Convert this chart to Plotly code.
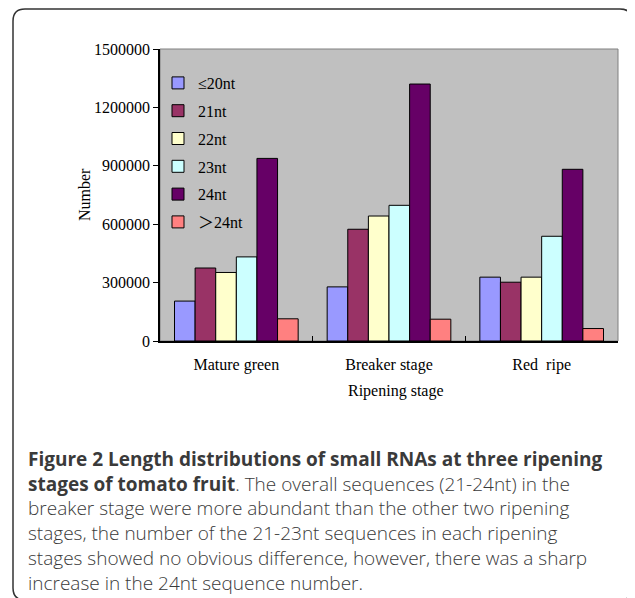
import plotly.graph_objects as go

categories = ["Mature green", "Breaker stage", "Red  ripe"]
series_names = ["≤20nt", "21nt", "22nt", "23nt", "24nt", "＞24nt"]
le20 = [205000, 278000, 328000]
nt21 = [375000, 574000, 302000]
nt22 = [352000, 642000, 328000]
nt23 = [432000, 697000, 538000]
nt24 = [938000, 1320000, 882000]
gt24 = [114000, 112000, 64000]
series_values = [le20, nt21, nt22, nt23, nt24, gt24]
colors = ["#9999FF", "#993366", "#FFFFCC", "#CCFFFF", "#660066", "#FF8080"]
y_ticks = [0, 300000, 600000, 900000, 1200000, 1500000]

# page body has an 8px margin; figure placed at (8,8) on screen
OFF = 8
W, H = 635 - OFF, 598 - OFF
L, R, T, B = 160, 618, 49, 341  # plot area in screen pixels


def px(x):
    return (x - L) / (R - L)


def py(y):
    return (B - y) / (B - T)


fig = go.Figure()
for i, (name, vals) in enumerate(zip(series_names, series_values)):
    fig.add_trace(go.Bar(
        x=categories, y=vals, name=name,
        marker=dict(color=colors[i], line=dict(color="#000000", width=1)),
        legendgroup=f"g{i}",
    ))

serif = "Liberation Serif, Times New Roman, Noto Sans CJK SC, serif"

fig.update_layout(
    width=W, height=H,
    margin=dict(l=L - OFF, r=W - (R - OFF), t=T - OFF, b=H - (B - OFF), pad=0),
    paper_bgcolor="white",
    plot_bgcolor="#C0C0C0",
    barmode="group",
    bargap=0.19,
    bargroupgap=0,
    font=dict(family=serif, size=16, color="#000000"),
    showlegend=True,
    legend=dict(
        x=px(158), y=py(66), xanchor="left", yanchor="top",
        bgcolor="rgba(0,0,0,0)", font=dict(family=serif, size=16),
        tracegroupgap=4, itemwidth=30,
    ),
    xaxis=dict(
        showline=True, linecolor="#000000", linewidth=1.5,
        ticks="inside", tickson="boundaries", ticklen=5, tickcolor="#000000",
        showgrid=False, tickfont=dict(family=serif, size=16),
        ticklabelstandoff=8,
    ),
    yaxis=dict(
        range=[0, 1500000], tickvals=y_ticks, tickformat="d",
        showline=True, linecolor="#000000", linewidth=1.5,
        ticks="outside", ticklen=5, tickcolor="#000000",
        showgrid=False, zeroline=False, tickfont=dict(family=serif, size=16),
    ),
)

# plot-area border (top/right grey)
fig.add_shape(type="rect", xref="paper", yref="paper", x0=0, y0=0, x1=1, y1=1,
              line=dict(color="#808080", width=1), layer="below")

# axis titles
fig.add_annotation(text="Number", xref="paper", yref="paper", x=px(84), y=py(195),
                   showarrow=False, textangle=-90, font=dict(family=serif, size=16),
                   xanchor="center", yanchor="middle")
fig.add_annotation(text="Ripening stage", xref="paper", yref="paper", x=px(396), y=py(391),
                   showarrow=False, font=dict(family=serif, size=16),
                   xanchor="center", yanchor="middle")

# outer rounded frame
l0, t0, r0, b0, rad = 13, 9, 632, 600, 12


def P(x, y):
    return f"{px(x):.5f},{py(y):.5f}"


path = (f"M {P(l0, b0 - rad)} L {P(l0, t0 + rad)} Q {P(l0, t0)} {P(l0 + rad, t0)} "
        f"L {P(r0 - rad, t0)} Q {P(r0, t0)} {P(r0, t0 + rad)} "
        f"L {P(r0, b0 - rad)} Q {P(r0, b0)} {P(r0 - rad, b0)} "
        f"L {P(l0 + rad, b0)} Q {P(l0, b0)} {P(l0, b0 - rad)} Z")
fig.add_shape(type="path", path=path, xref="paper", yref="paper",
              line=dict(color="#333333", width=1.5))

# caption (one multi-line text block)
sans = "Open Sans, Noto Sans, sans-serif"
cap_lines = [
    "<b>Figure 2 Length distributions of small RNAs at three ripening</b>",
    "<b>stages of tomato fruit</b>. The overall sequences (21-24nt) in the",
    "breaker stage were more abundant than the other two ripening",
    "stages, the number of the 21-23nt sequences in each ripening",
    "stages showed no obvious difference, however, there was a sharp",
    "increase in the 24nt sequence number.",
]
fig.add_annotation(text="<br>".join(cap_lines), xref="paper", yref="paper",
                   x=px(26), y=py(521), showarrow=False, align="left",
                   xanchor="left", yanchor="middle",
                   font=dict(family=sans, size=19, color="#3a3a3a", weight=300))

fig.write_html("out.html")
